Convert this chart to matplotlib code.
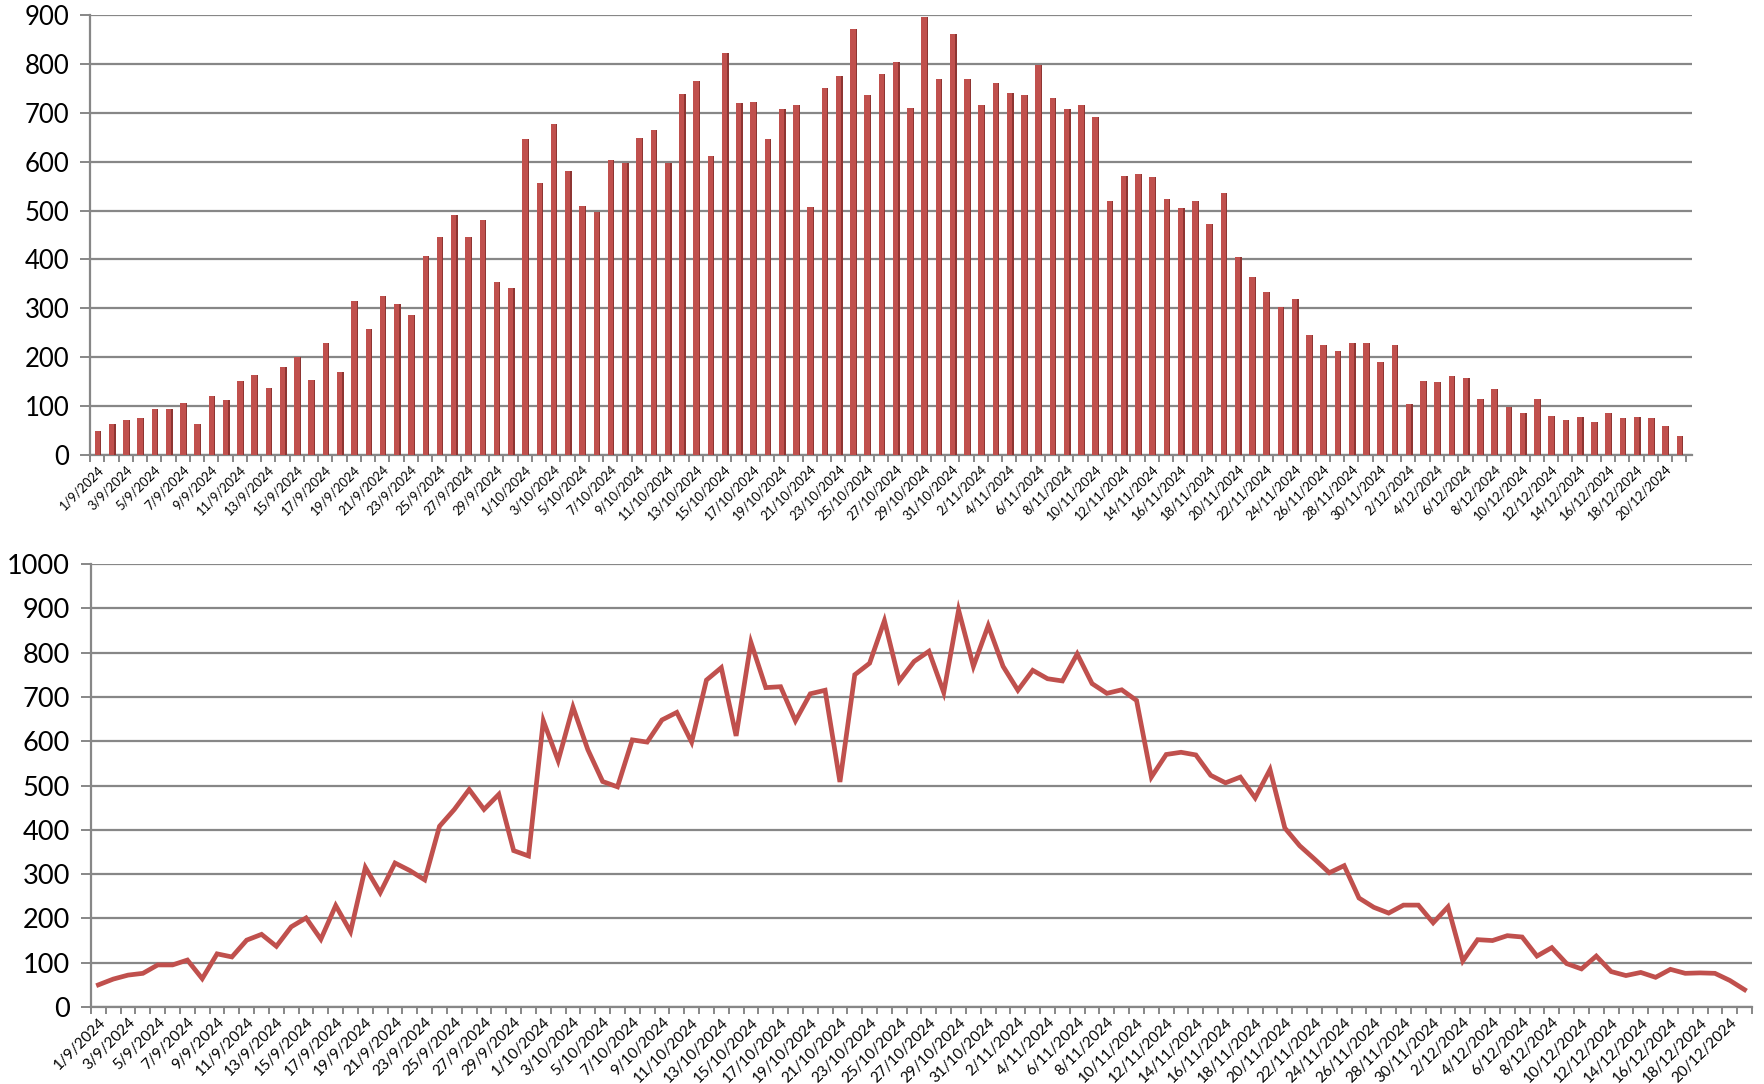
import numpy as np
import matplotlib
matplotlib.use("Agg")
import matplotlib.pyplot as plt
import datetime as dt

plt.rcParams['font.family'] = ['Lato', 'DejaVu Sans']

# ---- data ----
sep = [50, 63, 72, 76, 95, 95, 106, 64, 120, 113, 151, 164, 137, 181, 201, 153, 229, 170,
       315, 258, 325, 308, 287, 408, 446, 491, 446, 480, 353, 341]
oct_ = [646, 556, 677, 581, 509, 497, 603, 598, 648, 665, 598, 738, 766, 612, 823, 721, 723,
        646, 707, 715, 508, 750, 776, 872, 736, 780, 803, 710, 896, 769, 861]
nov = [769, 715, 760, 741, 736, 797, 730, 708, 716, 692, 519, 570, 575, 569, 523, 506, 519,
       472, 536, 404, 364, 334, 303, 319, 246, 225, 212, 230, 230, 190]
dec = [226, 104, 152, 150, 161, 158, 115, 134, 98, 86, 115, 80, 71, 78, 67, 85, 76, 77, 76,
       60, 39]
values = sep + oct_ + nov + dec

start = dt.date(2024, 9, 1)
dates = [start + dt.timedelta(days=i) for i in range(len(values))]
labels = [f"{d.day}/{d.month}/{d.year}" for d in dates]

top_yticks = list(range(0, 1000, 100))
bot_yticks = list(range(0, 1100, 100))

RED = '#C0504D'
DARK = '#8E3532'
GRID = '#878787'

W, H = 1765, 1084
fig = plt.figure(figsize=(W / 100, H / 100), dpi=100)

x = np.arange(len(values))


def style_axis(ax, ytick_size, xtick_size, ylim_top, yticks):
    ax.set_xlim(-0.5, len(values) - 0.5)
    ax.set_ylim(0, ylim_top)
    ax.set_yticks(yticks)
    ax.yaxis.grid(True, color=GRID, linewidth=1.6)
    ax.set_axisbelow(True)
    for s in ['top', 'right']:
        ax.spines[s].set_visible(False)
    for s in ['left', 'bottom']:
        ax.spines[s].set_color(GRID)
        ax.spines[s].set_linewidth(1.6)
    ax.set_xticks(x[::2])
    ax.set_xticklabels(labels[::2], rotation=45, ha='right', rotation_mode='anchor',
                       fontsize=xtick_size)
    ax.set_xticks(np.arange(-0.5, len(values)), minor=True)
    ax.tick_params(axis='x', which='major', length=0, pad=6)
    ax.tick_params(axis='x', which='minor', length=5, width=1.4, color=GRID)
    ax.tick_params(axis='y', length=7, width=1.4, color=GRID, labelsize=ytick_size, pad=8)


# ---- top: bar chart ----
ax1 = fig.add_axes([90 / W, 1 - 455 / H, (1692 - 90) / W, (455 - 15) / H])
ax1.bar(x + 0.02, values, width=0.38, color=RED, linewidth=0, zorder=3)
ax1.bar(x + 0.255, values, width=0.09, color=DARK, linewidth=0, zorder=3)
style_axis(ax1, 18.5, 9.3, 900, top_yticks)
ax1.set_xlim(-0.5, len(values) - 0.1)

# ---- bottom: line chart ----
ax2 = fig.add_axes([91 / W, 1 - 1007 / H, (1752 - 91) / W, (1007 - 564) / H])
ax2.plot(x, values, color=RED, linewidth=3.4, solid_joinstyle='miter', zorder=3)
style_axis(ax2, 19.5, 11, 1000, bot_yticks)

fig.savefig('out.png', dpi=100, facecolor='white')
